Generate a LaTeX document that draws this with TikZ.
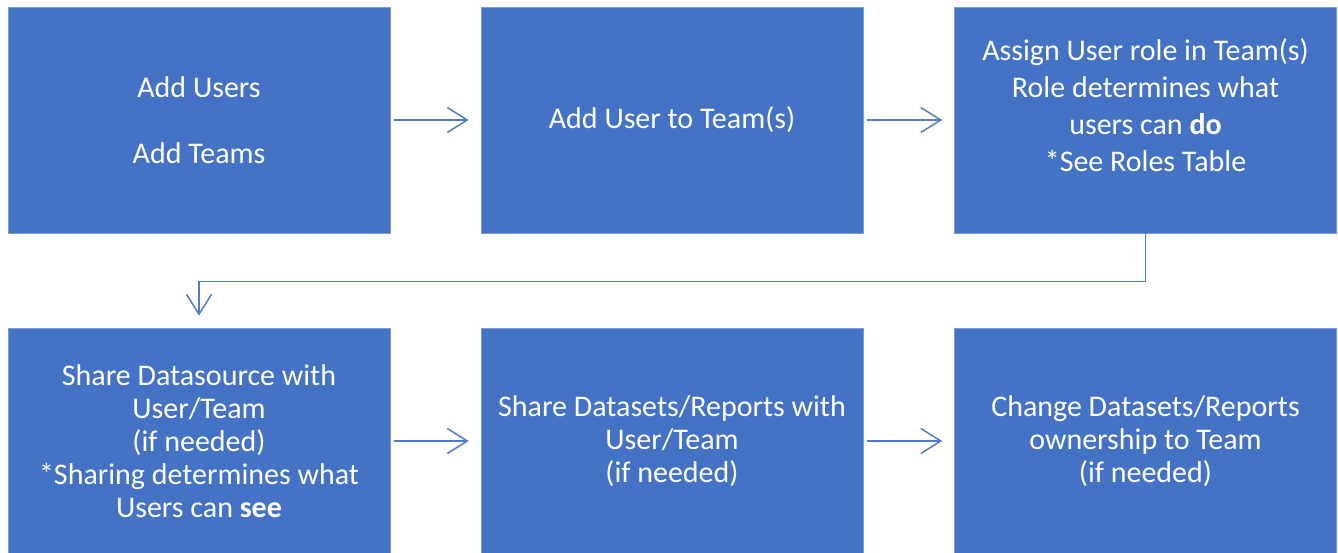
\documentclass[tikz,border=0pt]{standalone}
\usepackage{fontspec}
\setmainfont{Carlito}
\usetikzlibrary{arrows.meta}
\definecolor{bleu}{HTML}{4472C4}
\definecolor{fleche}{HTML}{4F7BCA}
\begin{document}
\begin{tikzpicture}[x=1pt,y=1pt]
	\tikzset{etape/.style={fill=bleu,draw=bleu!70!white,line width=0.6pt,minimum width=382pt,minimum height=226pt,inner sep=0pt,text=white,align=center,font=\fontsize{30}{33}\selectfont}}
	\tikzset{lien/.style={draw=fleche,line width=1.5pt,-{Straight Barb[length=20pt,width=25pt]}}}
	\useasboundingbox (0,0) rectangle (1338,553);
	\node[etape] (e1) at (199,433) {Add Users\\[33pt]Add Teams};
	\node[etape] (e2) at (672,433) {Add User to Team(s)};
	\node[etape,font=\fontsize{30}{36.7}\selectfont] (e3) at (1145.5,433) {Assign User role in Team(s)\\Role determines what\\users can \textbf{do}\\*See Roles Table\\[-6.7pt]\mbox{}};
	\node[etape] (e4) at (199,112) {Share Datasource with\\User/Team\\(if needed)\\*Sharing determines what\\Users can \textbf{see}};
	\node[etape] (e5) at (672,112) {Share Datasets/Reports with\\User/Team\\(if needed)};
	\node[etape] (e6) at (1145.5,112) {Change Datasets/Reports\\ownership to Team\\(if needed)};
	\draw[lien,shorten <=4pt,shorten >=12pt] (e1) -- (e2);
	\draw[lien,shorten <=4pt,shorten >=12pt] (e2) -- (e3);
	\draw[lien,shorten >=12pt] (e3.south) -- ++(0,-48) -| (e4.north);
	\draw[lien,shorten <=4pt,shorten >=12pt] (e4) -- (e5);
	\draw[lien,shorten <=4pt,shorten >=12pt] (e5) -- (e6);
\end{tikzpicture}
\end{document}
